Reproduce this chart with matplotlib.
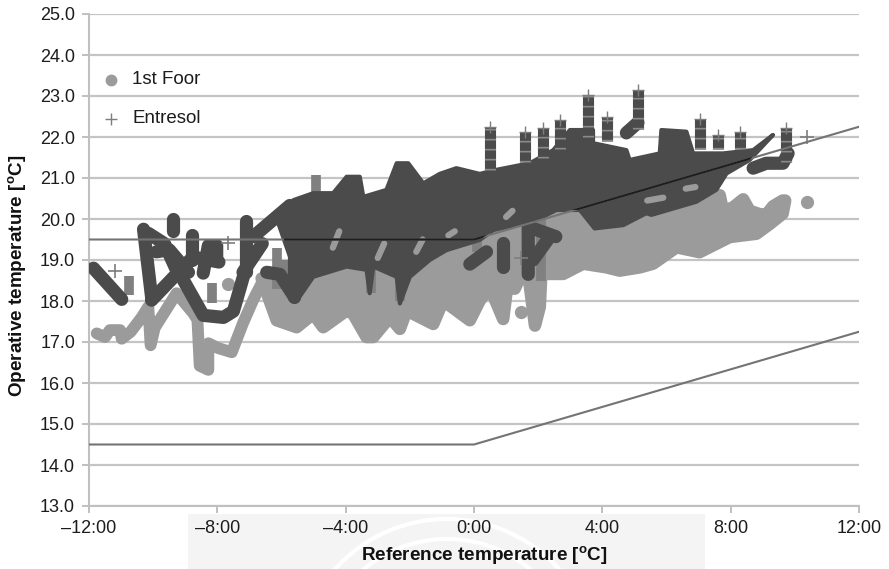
import matplotlib
matplotlib.use('Agg')
import matplotlib.pyplot as mpl
from matplotlib.patches import Rectangle, Arc

mpl.rcParams['font.family'] = ['Liberation Sans', 'DejaVu Sans']
mpl.rcParams['mathtext.fontset'] = 'custom'
mpl.rcParams['mathtext.rm'] = 'Liberation Sans'
mpl.rcParams['mathtext.bf'] = 'Liberation Sans:bold'

GRAY = '#9b9b9b'
DARK = '#4b4b4b'
MID = '#7d7d7d'

x_ticks = [-12, -8, -4, 0, 4, 8, 12]
x_labels = ['\u201312:00', '\u20138:00', '\u20134:00', '0:00', '4:00', '8:00', '12:00']
y_ticks = [13, 14, 15, 16, 17, 18, 19, 20, 21, 22, 23, 24, 25]

limit_x = [-12, 0, 12]
upper_limit = [19.5, 19.5, 22.25]
lower_limit = [14.5, 14.5, 17.25]

# 1st floor, the early trail on the left
floor_trail_x = [-11.76, -11.5, -11.35, -11.03, -10.98, -10.7, -10.36, -10.15, -10.08, -9.95, -9.27, -8.75, -8.62,
                 -8.55, -8.28, -8.28, -7.97, -7.55, -7.2, -6.88, -6.62]
floor_trail_y = [17.21, 17.12, 17.29, 17.29, 17.08, 17.25, 17.6, 17.86, 16.92, 17.35, 18.19, 17.7, 17.54,
                 16.42, 16.32, 16.97, 16.85, 16.75, 17.46, 18.03, 18.43]

# 1st floor, main band
floor_lower_x = [-6.62, -6.15, -5.53, -5.01, -4.7, -3.97, -3.77, -3.35, -3.14, -2.62, -2.31, -2.1, -1.27, -0.96,
                 -0.13, 0.18, 0.49, 0.91, 1.06, 1.27, 1.48, 1.69, 1.9, 2.05, 2.1, 2.78, 3.4, 4.13, 4.54, 5.17, 5.58,
                 6.31, 7.03, 7.97, 8.8, 9.22, 9.62, 9.7]
floor_lower_y = [18.55, 17.53, 17.36, 17.69, 17.36, 17.77, 17.69, 17.12, 17.12, 17.61, 17.32, 17.77, 17.44, 18.01,
                 17.53, 18.01, 18.34, 17.56, 18.5, 18.3, 18.66, 18.66, 17.4, 17.85, 18.66, 18.66, 18.91, 18.82,
                 18.74, 18.82, 18.91, 19.31, 19.19, 19.56, 19.64, 19.88, 20.13, 20.45]
floor_upper_x = [9.62, 9.32, 9.11, 8.9, 8.59, 8.39, 8.07, 7.76, 7.66, 3.0, -3.0, -6.62]
floor_upper_y = [20.45, 20.31, 20.1, 20.12, 20.2, 20.48, 20.28, 20.2, 20.58, 20.5, 19.5, 18.55]

floor_single_x = [-7.66, 1.48, 10.38]
floor_single_y = [18.41, 17.72, 20.42]

# Entresol, main band
entresol_upper_x = [-6.1, -5.63, -5.01, -4.39, -3.97, -3.56, -3.45, -2.73, -2.41, -2.05, -1.58, -1.07, -0.55, 0.18,
                    0.7, 1.74, 2.47, 2.99, 3.71, 3.71, 4.75, 4.85, 5.79, 5.84, 6.62, 6.83, 7.76, 8.7, 9.32]
entresol_upper_y = [19.9, 20.46, 20.63, 20.63, 21.03, 21.03, 20.54, 20.71, 21.36, 21.36, 20.87, 21.1, 21.24, 21.1,
                    21.2, 21.36, 21.68, 22.17, 22.17, 21.85, 21.68, 21.44, 21.6, 22.17, 22.13, 21.6, 21.6, 21.68, 22.05]
entresol_lower_x = [-5.7, -5.53, -5.01, -3.97, -3.35, -3.25, -3.14, -2.41, -2.31, -2.0, -1.38, -0.86, 0.18,
                    0.6, 1.95, 2.57, 3.3, 3.76, 4.65, 5.37, 5.53, 6.93, 7.55, 7.87, 8.59, 9.32]
entresol_lower_y = [19.0, 18.0, 18.59, 18.84, 18.76, 18.19, 18.84, 18.59, 17.94, 18.59, 19.0, 19.24, 19.49,
                    19.73, 19.98, 20.22, 20.22, 19.77, 19.85, 20.14, 20.1, 20.42, 20.71, 21.11, 21.44, 22.05]

# Entresol, separate traces outside the band
entresol_traces = [
    ([-11.86, -10.98], [18.8, 18.04]),
    ([-10.3, -10.05], [19.75, 18.1]),
    ([-10.15, -9.65, -9.3], [19.65, 19.4, 18.8]),
    ([-9.9, -9.5, -8.9], [19.2, 19.25, 18.7]),
    ([-10.05, -8.85], [18.02, 19.0]),
    ([-9.06, -8.44, -7.81, -7.5, -7.19], [18.51, 17.65, 17.6, 17.75, 18.59]),
    ([-8.44, -8.28, -8.02, -8.02], [18.68, 19.35, 19.35, 19.0]),
    ([-8.6, -7.95], [19.05, 18.95]),
    ([-9.37, -9.37], [20.0, 19.7]),
    ([-8.8, -8.8], [19.6, 19.0]),
    ([-7.1, -7.1], [19.95, 18.7]),
    ([-7.2, -6.6], [18.7, 19.4]),
    ([-6.88, -5.74], [19.57, 20.33]),
    ([-6.46, -6.05, -5.6], [18.7, 18.65, 18.1]),
    ([-5.6, -5.6], [18.1, 20.3]),
    ([1.69, 1.69, 2.55], [18.65, 19.81, 19.57]),
    ([1.84, 2.3], [19.0, 19.5]),
    ([0.91, 0.91], [19.41, 18.84]),
    ([-0.13, 0.39], [18.9, 19.2]),
    ([8.7, 9.11, 9.63, 9.79], [21.24, 21.36, 21.36, 21.6]),
    ([4.75, 5.11], [22.1, 22.35]),
]

# Entresol, tall columns of crosses above the band
column_x = [0.49, 1.58, 2.15, 2.67, 3.56, 4.13, 5.11, 7.03, 7.61, 8.3, 9.71]
column_base = [21.2, 21.4, 21.5, 21.7, 22.0, 21.9, 22.2, 21.7, 21.7, 21.7, 21.4]
column_top = [22.25, 22.13, 22.21, 22.41, 23.02, 22.5, 23.15, 22.45, 22.05, 22.13, 22.21]

# Entresol, thin columns where the crosses do not merge
thin_x = [-10.1, -10.75, -8.18, -6.15, -5.9, -4.91, -3.2, -2.3, 0.1, 2.1]
thin_base = [18.0, 18.15, 17.95, 18.3, 18.3, 20.4, 18.2, 18.0, 19.2, 18.5]
thin_top = [18.7, 18.6, 18.45, 19.3, 19.0, 21.07, 19.0, 18.5, 19.6, 20.0]

# patches of the 1st floor that show through the Entresol band
gap_x = [(-4.4, -4.2), (-3.0, -2.8), (-1.8, -1.6), (-0.8, -0.6), (5.9, 5.4), (6.9, 6.6), (1.0, 1.2)]
gap_y = [(19.3, 19.7), (19.05, 19.4), (19.2, 19.5), (19.6, 19.7), (20.52, 20.45), (20.78, 20.74), (20.05, 20.2)]

entresol_single_x = [-11.19, -7.66, 1.48, 10.38]
entresol_single_y = [18.74, 19.41, 19.06, 21.99]

figure = mpl.figure(figsize=(8.89, 5.69), dpi=100)

# pale scanned watermark under the axes
figure.patches.append(Rectangle((188 / 889, 0), 517 / 889, 55 / 569, transform=figure.transFigure,
                                facecolor='#f4f4f4', edgecolor='none', zorder=-5))
for arc_size in [260, 300]:
    figure.patches.append(Arc((447 / 889, -100 / 569), arc_size / 889, arc_size / 569, transform=figure.transFigure,
                              edgecolor='white', linewidth=3, zorder=-4))

axis = figure.add_axes([89 / 889, 1 - 506 / 569, 770 / 889, 492 / 569])
axis.patch.set_alpha(0)

axis.set_xlim(-12, 12)
axis.set_ylim(13, 25)
axis.set_xticks(x_ticks, x_labels)
axis.set_yticks(y_ticks, ['%.1f' % value for value in y_ticks])
axis.grid(axis='y', color='#c4c4c4', linewidth=1.6)
axis.set_axisbelow(True)
axis.tick_params(axis='both', color='#b5b5b5', width=1.2, length=5, labelsize=13, labelcolor='#1c1c1c', pad=5)

for side in ['top', 'right']:
    axis.spines[side].set_visible(False)
for side in ['left', 'bottom']:
    axis.spines[side].set_color('#c0c0c0')
    axis.spines[side].set_linewidth(1.5)

axis.plot(floor_trail_x, floor_trail_y, color=GRAY, linewidth=8.5, solid_joinstyle='round', solid_capstyle='round')
axis.fill(floor_lower_x + floor_upper_x, floor_lower_y + floor_upper_y, facecolor=GRAY, edgecolor=GRAY,
          linewidth=9, joinstyle='round')
axis.plot(floor_single_x, floor_single_y, 'o', color=GRAY, markersize=8.5)

axis.vlines(thin_x, thin_base, thin_top, color='#808080', linewidth=7, zorder=3)
for trace_x, trace_y in entresol_traces:
    axis.plot(trace_x, trace_y, color=DARK, linewidth=9.5, solid_capstyle='round', solid_joinstyle='round', zorder=3)
body = axis.fill(entresol_upper_x + entresol_lower_x[::-1], entresol_upper_y + entresol_lower_y[::-1],
                 facecolor=DARK, edgecolor=DARK, linewidth=3, joinstyle='round', zorder=3)[0]
for one_x, one_y in zip(gap_x, gap_y):
    axis.plot(one_x, one_y, color=GRAY, linewidth=4.5, solid_capstyle='round', zorder=3)
axis.vlines(column_x, column_base, column_top, color=DARK, linewidth=8, zorder=3)
axis.vlines(column_x, column_base, column_top, color='#8a8a8a', linewidth=8, linestyles=(0, (0.15, 0.75)), zorder=3)
axis.plot(column_x, column_top, '+', color=MID, markersize=9, markeredgewidth=1, zorder=3)
axis.plot(entresol_single_x, entresol_single_y, '+', color=MID, markersize=10, markeredgewidth=1.2, zorder=3)

axis.plot(limit_x, upper_limit, color='#747474', linewidth=1.5, zorder=4)
axis.plot(limit_x, lower_limit, color='#747474', linewidth=1.5, zorder=4)
inner_line = axis.plot(limit_x, upper_limit, color='#1e1e1e', linewidth=1.5, zorder=5)[0]
inner_line.set_clip_path(body.get_path(), body.get_transform())

# legend is placed by hand, it sits on the grid without a frame
axis.plot([-11.3], [23.4], 'o', color=GRAY, markersize=7.5)
axis.plot([-11.3], [22.44], '+', color=MID, markersize=8, markeredgewidth=1)
axis.text(-10.65, 23.4, '1st Foor', fontsize=13.5, color='#1c1c1c', va='center')
axis.text(-10.65, 22.44, 'Entresol', fontsize=13.5, color='#1c1c1c', va='center')

figure.text(484 / 889, 1 - 555 / 569, r'Reference temperature [$\mathbf{^{o}}$C]', fontsize=13.6, fontweight='bold',
            ha='center', va='center', color='#111111')
figure.text(17 / 889, 1 - 276 / 569, r'Operative temperature [$\mathbf{^{o}}$C]', fontsize=13.6, fontweight='bold',
            rotation=90, ha='center', va='center', color='#111111')

figure.savefig('out.png', dpi=100)
mpl.close('all')
